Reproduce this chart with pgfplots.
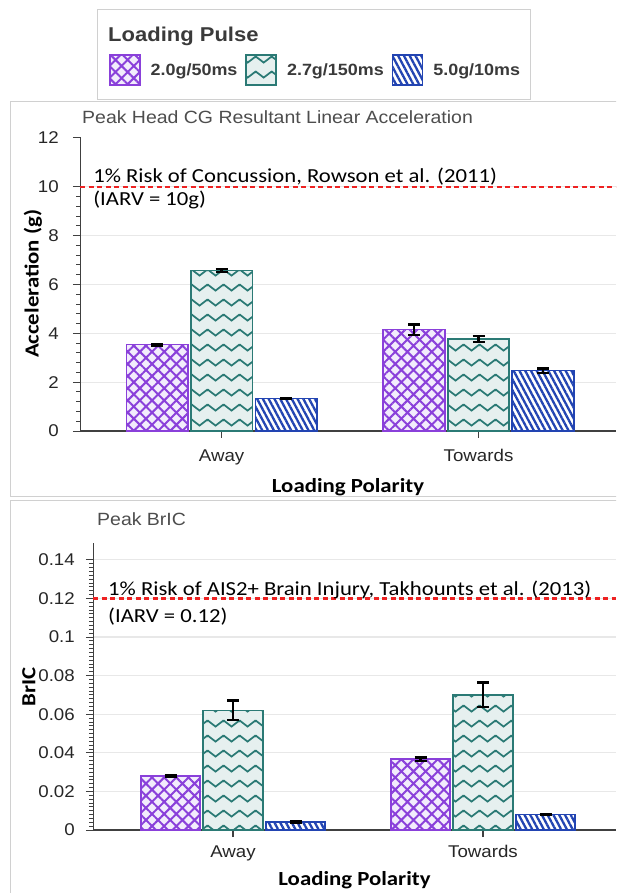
\documentclass[border=0pt]{standalone}
\usepackage{fontspec}
\usepackage{pgfplots}
\pgfplotsset{compat=1.18}
\usepackage{pgfplotstable}
\usetikzlibrary{patterns,patterns.meta}
\setmainfont{Carlito}[FakeStretch=1.14]
\newfontfamily\arialf{Liberation Sans}[FakeStretch=1.1]

\definecolor{purL}{HTML}{8A40DA}
\definecolor{purF}{HTML}{F2ECFC}
\definecolor{tealL}{HTML}{2B7A75}
\definecolor{tealF}{HTML}{E6F0EF}
\definecolor{bluL}{HTML}{2244B2}
\definecolor{refred}{HTML}{EE2222}
\definecolor{gridc}{HTML}{E8E8E8}
\definecolor{axc}{HTML}{404040}
\definecolor{tickc}{HTML}{262626}
\definecolor{titc}{HTML}{4D4D4D}
\definecolor{legtxt}{HTML}{3A3A3A}
\definecolor{boxc}{HTML}{D0D0D0}

% wavy fill for the 2.7g/150ms pulse
\pgfdeclarepatternformonly{zigzag}{\pgfqpoint{0pt}{0pt}}{\pgfqpoint{16pt}{14.5pt}}{\pgfqpoint{16pt}{14.5pt}}{%
  \pgfsetlinewidth{1.8pt}\pgfsetmiterjoin
  \pgfpathmoveto{\pgfqpoint{-8pt}{3.5pt}}
  \pgfpathlineto{\pgfqpoint{0pt}{9.5pt}}
  \pgfpathlineto{\pgfqpoint{8pt}{3.5pt}}
  \pgfpathlineto{\pgfqpoint{16pt}{9.5pt}}
  \pgfpathlineto{\pgfqpoint{24pt}{3.5pt}}
  \pgfusepath{stroke}}

% peak head CG resultant linear acceleration (g)
\pgfplotstableread{
pos mean err
0   3.54 0.03
1   4.15 0.22
}\accA
\pgfplotstableread{
pos mean err
0   6.57 0.06
1   3.77 0.12
}\accB
\pgfplotstableread{
pos mean err
0   1.33 0.02
1   2.47 0.10
}\accC
% peak BrIC
\pgfplotstableread{
pos mean err
0   0.0280 0.0006
1   0.0367 0.0010
}\bricA
\pgfplotstableread{
pos mean err
0   0.0620 0.0050
1   0.0700 0.0063
}\bricB
\pgfplotstableread{
pos mean err
0   0.0042 0.0002
1   0.0080 0.0003
}\bricC

\tikzset{
  note/.style={anchor=base west, inner sep=0pt, font=\fontsize{19.9}{19.9}\selectfont, text=black},
  threshold/.style={draw=refred, line width=2.4pt, dash pattern=on 5pt off 3.5pt},
}

\pgfplotsset{
  panel/.style={
    scale only axis, clip=false,
    axis x line=bottom, axis y line=left,
    x axis line style={-, draw=axc, line width=1.8pt},
    y axis line style={-, draw=axc, line width=1pt},
    xtick={0,1}, xticklabels={Away,Towards},
    x tick style={draw=axc, line width=1.2pt},
    y tick style={draw=axc, line width=0.9pt},
    major tick length=7pt, minor tick length=4pt, tick align=outside,
    ymajorgrids, grid style={gridc, line width=1.2pt},
    ticklabel style={font=\arialf\fontsize{17}{17}\selectfont, text=tickc},
    xticklabel style={anchor=base},
    yticklabel style={anchor=east, inner sep=0pt},
    /pgf/number format/assume math mode=true,
    scaled y ticks=false,
    ybar,
    legend image code/.code={\draw[##1] (0pt,-15pt) rectangle (30pt,15pt);},
    error bars/y dir=both, error bars/y explicit,
    error bars/error bar style={draw=black, line width=2.2pt},
    error bars/error mark options={rotate=90, draw=black, line width=2.6pt, mark size=6pt},
    every axis x label/.style={at={(rel axis cs:0.5,0)}, anchor=base,
      font=\bfseries\fontsize{20}{20}\selectfont},
    title style={at={(rel axis cs:0,1)}, anchor=base west, inner sep=0pt,
      font=\arialf\fontsize{17.7}{17.7}\selectfont, text=titc},
  },
  pulseA/.style={draw=purL, fill=purF, line width=1.6pt,
    postaction={pattern={Hatch[angle=45,distance=8.6pt,line width=2pt]}, pattern color=purL}},
  pulseB/.style={draw=tealL, fill=tealF, line width=1.6pt,
    postaction={pattern=zigzag, pattern color=tealL}},
  pulseC/.style={draw=bluL, fill=white, line width=1.6pt,
    postaction={pattern={Lines[angle=-62,distance=5.1pt,line width=2.3pt]}, pattern color=bluL}},
}

\begin{document}
\begin{tikzpicture}
\useasboundingbox (0,0) rectangle (616pt,893pt);
\clip (0,0) rectangle (616pt,893pt);

% frames around the legend and the two panels
\draw[boxc, line width=1pt] (97pt,883pt) rectangle (530pt,793pt);
\draw[boxc, line width=1pt] (10pt,791pt) rectangle (660pt,396pt);
\draw[boxc, line width=1pt] (10pt,392pt) rectangle (660pt,-20pt);

\node[anchor=base west, inner sep=0pt, text=legtxt,
  font=\arialf\bfseries\fontsize{20}{20}\selectfont] at (108pt,851pt) {Loading Pulse};

% upper panel: acceleration
\begin{axis}[panel,
  at={(80pt,462pt)}, anchor=south west,
  width=536pt, height=294.3pt,
  xmin=-0.551, xmax=1.535, ymin=0, ymax=12.05,
  ytick={0,2,...,10}, extra y ticks={12}, extra y tick style={grid=none},
  minor y tick num=4,
  xticklabel style={yshift=-24pt},
  yticklabel style={xshift=-14pt},
  xlabel={Loading Polarity},
  xlabel style={yshift=-61.7pt},
  ylabel={Acceleration (g)},
  every axis y label/.style={at={(rel axis cs:0,0.5)}, xshift=-47pt, rotate=90,
    anchor=center, font=\bfseries\fontsize{20}{20}\selectfont},
  title={Peak Head CG Resultant Linear Acceleration},
  title style={xshift=2pt, yshift=6.7pt},
  legend style={at={(rel axis cs:0.054,1.2267)}, anchor=west, draw=none, fill=none,
    inner sep=0pt, legend columns=3, column sep=0pt,
    font=\arialf\bfseries\fontsize{16.3}{16.3}\selectfont, text=legtxt,
    nodes={inner sep=0pt},
    /tikz/every odd column/.append style={column sep=10pt},
    /tikz/every even column/.append style={column sep=8pt}},
  legend cell align=left,
]
\addplot[pulseA, bar width=61.5pt, bar shift=-64.5pt] table[x=pos, y=mean, y error=err] {\accA};
\addplot[pulseB, bar width=61.5pt, bar shift=0pt] table[x=pos, y=mean, y error=err] {\accB};
\addplot[pulseC, bar width=61.5pt, bar shift=64.5pt] table[x=pos, y=mean, y error=err] {\accC};
\legend{2.0g/50ms, 2.7g/150ms, 5.0g/10ms}
\draw[threshold] (axis cs:-0.551,10) -- (axis cs:1.535,10);
\node[note] at (axis cs:-0.5,10.17) {1\% Risk of Concussion, Rowson et al. (2011)};
\node[note] at (axis cs:-0.5,9.24) {(IARV = 10g)};
\end{axis}

% lower panel: BrIC
\begin{axis}[panel,
  at={(93pt,63pt)}, anchor=south west,
  width=523pt, height=286.5pt,
  xmin=-0.56, xmax=1.532, ymin=0, ymax=0.1485,
  ytick={0,0.02,0.04,0.06,0.08,0.1,0.12,0.14},
  yticklabels={0,0.02,0.04,0.06,0.08,0.1,0.12,0.14},
  minor y tick num=9,
  xticklabel style={yshift=-20pt},
  yticklabel style={xshift=-11pt},
  xlabel={Loading Polarity},
  xlabel style={yshift=-55pt},
  ylabel={BrIC},
  every axis y label/.style={at={(rel axis cs:0,0.5)}, xshift=-64pt, rotate=90,
    anchor=center, font=\bfseries\fontsize{20}{20}\selectfont},
  title={Peak BrIC},
  title style={xshift=4pt, yshift=11.8pt},
]
\addplot[pulseA, bar width=59.5pt, bar shift=-62.5pt] table[x=pos, y=mean, y error=err] {\bricA};
\addplot[pulseB, bar width=59.5pt, bar shift=0pt] table[x=pos, y=mean, y error=err] {\bricB};
\addplot[pulseC, bar width=59.5pt, bar shift=62.5pt] table[x=pos, y=mean, y error=err] {\bricC};
\draw[threshold] (axis cs:-0.56,0.12) -- (axis cs:1.532,0.12);
\node[note] at (axis cs:-0.5,0.1214) {1\% Risk of AIS2+ Brain Injury, Takhounts et al. (2013)};
\node[note] at (axis cs:-0.5,0.1076) {(IARV = 0.12)};
\end{axis}
\end{tikzpicture}
\end{document}
